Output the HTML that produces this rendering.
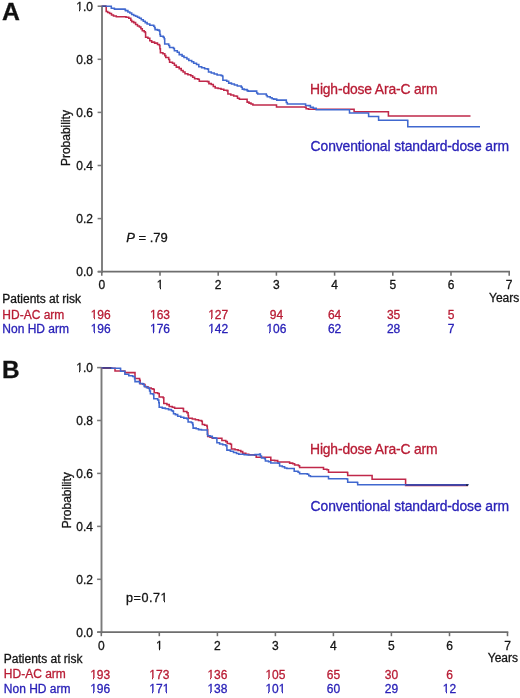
<!DOCTYPE html>
<html><head><meta charset="utf-8"><style>
html,body{margin:0;padding:0;background:#fff;}
body{width:520px;height:698px;overflow:hidden;}
svg{display:block;font-family:"Liberation Sans", sans-serif;will-change:transform;}
text{stroke-width:0.3px;}
</style></head><body>
<svg width="520" height="698" viewBox="0 0 520 698">
<text x="2" y="19.6" font-size="24.8" font-weight="bold" fill="#111" stroke="#111">A</text>
<text x="1.9" y="378.1" font-size="24.4" font-weight="bold" fill="#111" stroke="#111">B</text>
<line x1="102.0" y1="5.7" x2="102.0" y2="272.7" stroke="#7a7a7a" stroke-width="1.9"/>
<line x1="97.8" y1="271.7" x2="510.0" y2="271.7" stroke="#6e6e6e" stroke-width="1.8"/>
<line x1="97.6" y1="271.7" x2="102.0" y2="271.7" stroke="#7a7a7a" stroke-width="1.55"/>
<text x="93.0" y="276.1" text-anchor="end" font-size="12" fill="#141414" stroke="#141414">0.0</text>
<line x1="97.6" y1="218.6" x2="102.0" y2="218.6" stroke="#7a7a7a" stroke-width="1.55"/>
<text x="93.0" y="223.0" text-anchor="end" font-size="12" fill="#141414" stroke="#141414">0.2</text>
<line x1="97.6" y1="165.5" x2="102.0" y2="165.5" stroke="#7a7a7a" stroke-width="1.55"/>
<text x="93.0" y="169.9" text-anchor="end" font-size="12" fill="#141414" stroke="#141414">0.4</text>
<line x1="97.6" y1="112.4" x2="102.0" y2="112.4" stroke="#7a7a7a" stroke-width="1.55"/>
<text x="93.0" y="116.8" text-anchor="end" font-size="12" fill="#141414" stroke="#141414">0.6</text>
<line x1="97.6" y1="59.3" x2="102.0" y2="59.3" stroke="#7a7a7a" stroke-width="1.55"/>
<text x="93.0" y="63.7" text-anchor="end" font-size="12" fill="#141414" stroke="#141414">0.8</text>
<line x1="97.6" y1="6.2" x2="102.0" y2="6.2" stroke="#7a7a7a" stroke-width="1.55"/>
<text x="93.0" y="10.6" text-anchor="end" font-size="12" fill="#141414" stroke="#141414">1.0</text>
<line x1="101.8" y1="271.7" x2="101.8" y2="275.7" stroke="#6e6e6e" stroke-width="1.55"/>
<text x="101.8" y="289.0" text-anchor="middle" font-size="12" fill="#141414" stroke="#141414">0</text>
<line x1="160.0" y1="271.7" x2="160.0" y2="275.7" stroke="#6e6e6e" stroke-width="1.55"/>
<text x="160.0" y="289.0" text-anchor="middle" font-size="12" fill="#141414" stroke="#141414">1</text>
<line x1="218.2" y1="271.7" x2="218.2" y2="275.7" stroke="#6e6e6e" stroke-width="1.55"/>
<text x="218.2" y="289.0" text-anchor="middle" font-size="12" fill="#141414" stroke="#141414">2</text>
<line x1="276.4" y1="271.7" x2="276.4" y2="275.7" stroke="#6e6e6e" stroke-width="1.55"/>
<text x="276.4" y="289.0" text-anchor="middle" font-size="12" fill="#141414" stroke="#141414">3</text>
<line x1="334.6" y1="271.7" x2="334.6" y2="275.7" stroke="#6e6e6e" stroke-width="1.55"/>
<text x="334.6" y="289.0" text-anchor="middle" font-size="12" fill="#141414" stroke="#141414">4</text>
<line x1="392.8" y1="271.7" x2="392.8" y2="275.7" stroke="#6e6e6e" stroke-width="1.55"/>
<text x="392.8" y="289.0" text-anchor="middle" font-size="12" fill="#141414" stroke="#141414">5</text>
<line x1="451.0" y1="271.7" x2="451.0" y2="275.7" stroke="#6e6e6e" stroke-width="1.55"/>
<text x="451.0" y="289.0" text-anchor="middle" font-size="12" fill="#141414" stroke="#141414">6</text>
<line x1="509.2" y1="271.7" x2="509.2" y2="275.7" stroke="#6e6e6e" stroke-width="1.55"/>
<text x="509.2" y="289.0" text-anchor="middle" font-size="12" fill="#141414" stroke="#141414">7</text>
<line x1="101.5" y1="367.1" x2="101.5" y2="633.2" stroke="#7a7a7a" stroke-width="1.9"/>
<line x1="97.3" y1="632.2" x2="508.3" y2="632.2" stroke="#6e6e6e" stroke-width="1.8"/>
<line x1="97.1" y1="632.2" x2="101.5" y2="632.2" stroke="#7a7a7a" stroke-width="1.55"/>
<text x="93.0" y="636.6" text-anchor="end" font-size="12" fill="#141414" stroke="#141414">0.0</text>
<line x1="97.1" y1="579.3" x2="101.5" y2="579.3" stroke="#7a7a7a" stroke-width="1.55"/>
<text x="93.0" y="583.7" text-anchor="end" font-size="12" fill="#141414" stroke="#141414">0.2</text>
<line x1="97.1" y1="526.4" x2="101.5" y2="526.4" stroke="#7a7a7a" stroke-width="1.55"/>
<text x="93.0" y="530.8" text-anchor="end" font-size="12" fill="#141414" stroke="#141414">0.4</text>
<line x1="97.1" y1="473.4" x2="101.5" y2="473.4" stroke="#7a7a7a" stroke-width="1.55"/>
<text x="93.0" y="477.8" text-anchor="end" font-size="12" fill="#141414" stroke="#141414">0.6</text>
<line x1="97.1" y1="420.5" x2="101.5" y2="420.5" stroke="#7a7a7a" stroke-width="1.55"/>
<text x="93.0" y="424.9" text-anchor="end" font-size="12" fill="#141414" stroke="#141414">0.8</text>
<line x1="97.1" y1="367.6" x2="101.5" y2="367.6" stroke="#7a7a7a" stroke-width="1.55"/>
<text x="93.0" y="372.0" text-anchor="end" font-size="12" fill="#141414" stroke="#141414">1.0</text>
<line x1="101.3" y1="632.2" x2="101.3" y2="636.2" stroke="#6e6e6e" stroke-width="1.55"/>
<text x="101.3" y="649.5" text-anchor="middle" font-size="12" fill="#141414" stroke="#141414">0</text>
<line x1="159.3" y1="632.2" x2="159.3" y2="636.2" stroke="#6e6e6e" stroke-width="1.55"/>
<text x="159.3" y="649.5" text-anchor="middle" font-size="12" fill="#141414" stroke="#141414">1</text>
<line x1="217.4" y1="632.2" x2="217.4" y2="636.2" stroke="#6e6e6e" stroke-width="1.55"/>
<text x="217.4" y="649.5" text-anchor="middle" font-size="12" fill="#141414" stroke="#141414">2</text>
<line x1="275.4" y1="632.2" x2="275.4" y2="636.2" stroke="#6e6e6e" stroke-width="1.55"/>
<text x="275.4" y="649.5" text-anchor="middle" font-size="12" fill="#141414" stroke="#141414">3</text>
<line x1="333.4" y1="632.2" x2="333.4" y2="636.2" stroke="#6e6e6e" stroke-width="1.55"/>
<text x="333.4" y="649.5" text-anchor="middle" font-size="12" fill="#141414" stroke="#141414">4</text>
<line x1="391.4" y1="632.2" x2="391.4" y2="636.2" stroke="#6e6e6e" stroke-width="1.55"/>
<text x="391.4" y="649.5" text-anchor="middle" font-size="12" fill="#141414" stroke="#141414">5</text>
<line x1="449.5" y1="632.2" x2="449.5" y2="636.2" stroke="#6e6e6e" stroke-width="1.55"/>
<text x="449.5" y="649.5" text-anchor="middle" font-size="12" fill="#141414" stroke="#141414">6</text>
<line x1="507.5" y1="632.2" x2="507.5" y2="636.2" stroke="#6e6e6e" stroke-width="1.55"/>
<text x="507.5" y="649.5" text-anchor="middle" font-size="12" fill="#141414" stroke="#141414">7</text>
<text transform="translate(69.8,138.1) rotate(-90)" text-anchor="middle" font-size="12" fill="#141414" stroke="#141414">Probability</text>
<text transform="translate(70.8,500.2) rotate(-90)" text-anchor="middle" font-size="12" fill="#141414" stroke="#141414">Probability</text>
<text x="310" y="94.3" font-size="13.9" textLength="127.6" lengthAdjust="spacing" fill="#b81c34" stroke="#b81c34">High-dose Ara-C arm</text>
<text x="310.6" y="150.5" font-size="13.9" textLength="198.4" lengthAdjust="spacing" fill="#2a22b8" stroke="#2a22b8">Conventional standard-dose arm</text>
<text x="310" y="454.3" font-size="13.9" textLength="127.6" lengthAdjust="spacing" fill="#b81c34" stroke="#b81c34">High-dose Ara-C arm</text>
<text x="310.6" y="510.5" font-size="13.9" textLength="198.4" lengthAdjust="spacing" fill="#2a22b8" stroke="#2a22b8">Conventional standard-dose arm</text>
<text x="126.2" y="242.3" font-size="13" fill="#141414" stroke="#141414"><tspan font-style="italic">P</tspan> = .79</text>
<text x="126" y="602.4" font-size="12.6" textLength="41.6" lengthAdjust="spacing" fill="#141414" stroke="#141414">p=0.71</text>
<text x="489.0" y="302.3" font-size="12" fill="#141414" stroke="#141414" text-anchor="start">Years</text>
<text x="2.3" y="303.3" font-size="12" fill="#141414" stroke="#141414">Patients at risk</text>
<text x="2.3" y="318.6" font-size="12" fill="#b81c34" stroke="#b81c34">HD-AC arm</text>
<text x="2.3" y="333.2" font-size="12" fill="#2a22b8" stroke="#2a22b8">Non HD arm</text>
<text x="100.7" y="319.0" text-anchor="middle" font-size="12" fill="#b81c34" stroke="#b81c34">196</text>
<text x="100.7" y="333.4" text-anchor="middle" font-size="12" fill="#2a22b8" stroke="#2a22b8">196</text>
<text x="160.0" y="319.0" text-anchor="middle" font-size="12" fill="#b81c34" stroke="#b81c34">163</text>
<text x="160.0" y="333.4" text-anchor="middle" font-size="12" fill="#2a22b8" stroke="#2a22b8">176</text>
<text x="218.2" y="319.0" text-anchor="middle" font-size="12" fill="#b81c34" stroke="#b81c34">127</text>
<text x="218.2" y="333.4" text-anchor="middle" font-size="12" fill="#2a22b8" stroke="#2a22b8">142</text>
<text x="276.4" y="319.0" text-anchor="middle" font-size="12" fill="#b81c34" stroke="#b81c34">94</text>
<text x="276.4" y="333.4" text-anchor="middle" font-size="12" fill="#2a22b8" stroke="#2a22b8">106</text>
<text x="334.6" y="319.0" text-anchor="middle" font-size="12" fill="#b81c34" stroke="#b81c34">64</text>
<text x="334.6" y="333.4" text-anchor="middle" font-size="12" fill="#2a22b8" stroke="#2a22b8">62</text>
<text x="393.6" y="319.0" text-anchor="middle" font-size="12" fill="#b81c34" stroke="#b81c34">35</text>
<text x="393.6" y="333.4" text-anchor="middle" font-size="12" fill="#2a22b8" stroke="#2a22b8">28</text>
<text x="451.0" y="319.0" text-anchor="middle" font-size="12" fill="#b81c34" stroke="#b81c34">5</text>
<text x="451.0" y="333.4" text-anchor="middle" font-size="12" fill="#2a22b8" stroke="#2a22b8">7</text>
<text x="487.8" y="662.3" font-size="12" fill="#141414" stroke="#141414" text-anchor="start">Years</text>
<text x="3.8" y="663.0" font-size="12" fill="#141414" stroke="#141414">Patients at risk</text>
<text x="3.8" y="678.3" font-size="12" fill="#b81c34" stroke="#b81c34">HD-AC arm</text>
<text x="3.8" y="692.9" font-size="12" fill="#2a22b8" stroke="#2a22b8">Non HD arm</text>
<text x="100.2" y="679.0" text-anchor="middle" font-size="12" fill="#b81c34" stroke="#b81c34">193</text>
<text x="100.2" y="693.4" text-anchor="middle" font-size="12" fill="#2a22b8" stroke="#2a22b8">196</text>
<text x="159.3" y="679.0" text-anchor="middle" font-size="12" fill="#b81c34" stroke="#b81c34">173</text>
<text x="159.3" y="693.4" text-anchor="middle" font-size="12" fill="#2a22b8" stroke="#2a22b8">171</text>
<text x="217.4" y="679.0" text-anchor="middle" font-size="12" fill="#b81c34" stroke="#b81c34">136</text>
<text x="217.4" y="693.4" text-anchor="middle" font-size="12" fill="#2a22b8" stroke="#2a22b8">138</text>
<text x="275.4" y="679.0" text-anchor="middle" font-size="12" fill="#b81c34" stroke="#b81c34">105</text>
<text x="275.4" y="693.4" text-anchor="middle" font-size="12" fill="#2a22b8" stroke="#2a22b8">101</text>
<text x="333.4" y="679.0" text-anchor="middle" font-size="12" fill="#b81c34" stroke="#b81c34">65</text>
<text x="333.4" y="693.4" text-anchor="middle" font-size="12" fill="#2a22b8" stroke="#2a22b8">60</text>
<text x="391.4" y="679.0" text-anchor="middle" font-size="12" fill="#b81c34" stroke="#b81c34">30</text>
<text x="391.4" y="693.4" text-anchor="middle" font-size="12" fill="#2a22b8" stroke="#2a22b8">29</text>
<text x="449.5" y="679.0" text-anchor="middle" font-size="12" fill="#b81c34" stroke="#b81c34">6</text>
<text x="449.5" y="693.4" text-anchor="middle" font-size="12" fill="#2a22b8" stroke="#2a22b8">12</text>
<path d="M101.8 6.2 H106.2 V11.5 H107.7 V12.5 H109.6 V13.5 H111.5 V14.9 H113.5 V15.9 H116.3 V16.8 H126.0 V17.3 H128.8 V18.3 H130.8 V20.2 H131.7 V21.6 H133.7 V22.6 H135.6 V24.5 H137.5 V26.0 H139.4 V26.9 H140.9 V28.8 H142.3 V30.8 H144.2 V31.7 H145.2 V32.5 H145.6 V37.3 H147.9 V38.3 H149.8 V40.7 H151.7 V42.1 H154.6 V43.1 H157.5 V44.5 H159.4 V45.5 H159.9 V48.8 H160.4 V52.7 H162.9 V53.7 H164.8 V55.6 H165.8 V57.5 H168.7 V59.4 H169.6 V62.3 H172.5 V63.3 H174.4 V65.2 H176.3 V67.1 H179.2 V68.6 H181.2 V70.5 H183.1 V71.9 H185.0 V73.8 H187.9 V74.8 H190.8 V75.8 H192.7 V77.2 H194.6 V78.7 H197.9 V79.2 H199.3 V81.2 H207.5 V81.6 H208.9 V83.6 H211.3 V84.5 H213.3 V86.4 H215.2 V87.9 H218.1 V88.4 H221.0 V89.3 H223.8 V90.3 H226.9 V90.6 H227.9 V93.9 H230.8 V94.9 H233.7 V95.9 H236.5 V96.3 H237.5 V98.3 H239.4 V99.2 H246.8 V99.2 H247.1 V102.1 H249.0 V103.1 H251.0 V104.0 H252.9 V105.0 H275.8 V105.0 H276.5 V106.9 H305.2 V107.1 H306.1 V108.8 H308.5 V109.2 H353.8 V109.2 H354.1 V111.8 H388.0 V111.8 H388.4 V116.0 H470.5 V116.0" fill="none" stroke="#c0284a" stroke-width="1.55"/>
<path d="M101.8 6.2 H111.3 V8.2 H114.4 V9.1 H125.0 V9.6 H125.5 V10.6 H127.9 V12.0 H129.8 V13.0 H131.7 V14.4 H133.7 V15.4 H135.6 V16.3 H137.5 V17.3 H139.4 V18.3 H141.3 V19.7 H143.3 V21.2 H145.2 V22.6 H147.1 V24.0 H149.8 V25.3 H153.7 V26.3 H154.6 V27.7 H155.1 V29.6 H157.5 V30.1 H159.4 V31.1 H159.9 V34.4 H160.4 V36.3 H163.3 V37.3 H164.2 V38.8 H164.7 V44.0 H168.7 V45.5 H169.6 V47.4 H173.5 V48.4 H174.4 V50.8 H177.3 V52.2 H179.2 V54.6 H182.1 V56.1 H184.0 V57.5 H186.9 V58.9 H188.8 V60.4 H191.7 V61.8 H193.7 V63.3 H196.5 V64.5 H198.8 V66.7 H201.7 V67.7 H204.6 V68.7 H207.5 V69.1 H208.5 V72.0 H211.3 V73.0 H214.2 V73.9 H217.1 V74.9 H221.0 V75.4 H222.4 V76.3 H222.9 V80.2 H226.7 V81.2 H228.7 V83.1 H231.5 V84.0 H234.4 V85.0 H237.3 V86.0 H241.3 V87.2 H242.3 V89.1 H244.2 V89.6 H247.1 V90.6 H248.1 V91.1 H256.2 V91.1 H256.7 V93.0 H257.7 V93.9 H265.8 V93.9 H266.3 V95.4 H267.3 V96.8 H270.2 V97.8 H272.1 V98.8 H273.8 V99.1 H276.7 V100.1 H285.8 V100.1 H286.3 V102.5 H287.3 V103.9 H305.0 V103.9 H305.6 V105.4 H308.5 V105.6 H310.4 V107.3 H313.3 V108.3 H316.2 V109.7 H349.2 V109.8 H349.5 V113.0 H368.4 V113.0 H368.6 V116.4 H378.3 V116.4 H378.6 V120.2 H407.5 V120.4 H407.8 V126.8 H480.0 V126.8" fill="none" stroke="#4068cf" stroke-width="1.55"/>
<path d="M101.5 367.8 H111.5 V368.2 H115.0 V370.9 H124.6 V371.2 H124.9 V372.6 H134.6 V372.6 H135.0 V378.4 H139.4 V378.4 H139.6 V380.3 H140.2 V383.8 H143.5 V384.4 H145.0 V386.8 H148.0 V388.0 H151.2 V388.8 H153.1 V389.2 H154.2 V392.7 H157.7 V393.5 H159.2 V396.9 H163.1 V397.7 H163.8 V403.5 H166.9 V404.6 H169.2 V406.5 H172.3 V407.3 H174.6 V408.3 H182.8 V408.5 H183.5 V411.5 H186.9 V412.7 H188.1 V415.4 H188.5 V418.3 H192.3 V418.9 H195.4 V419.7 H198.5 V420.5 H201.5 V421.3 H202.3 V424.4 H204.6 V425.3 H206.9 V426.2 H207.3 V429.6 H207.7 V436.5 H210.0 V437.3 H212.3 V438.1 H215.4 V438.3 H220.4 V438.3 H221.9 V440.5 H225.8 V441.6 H227.3 V443.5 H230.4 V444.3 H231.5 V448.9 H235.0 V449.7 H238.1 V450.5 H240.8 V451.6 H242.7 V453.2 H245.8 V454.3 H248.8 V454.7 H254.6 V455.2 H256.2 V457.2 H269.8 V457.2 H270.8 V460.2 H274.6 V460.6 H277.7 V461.9 H288.1 V461.9 H289.6 V463.1 H292.7 V463.8 H294.6 V465.0 H298.5 V465.8 H299.6 V467.4 H322.5 V467.4 H323.5 V469.3 H326.9 V469.7 H328.5 V472.2 H347.2 V472.4 H347.7 V475.5 H371.7 V475.5 H372.1 V479.2 H405.2 V479.2 H405.6 V485.4 H468.0 V485.4" fill="none" stroke="#c0284a" stroke-width="1.55"/>
<path d="M101.5 367.8 H111.5 V368.3 H120.4 V368.6 H120.6 V371.2 H124.6 V371.2 H124.9 V374.3 H128.8 V375.7 H132.7 V376.5 H134.4 V376.8 H134.6 V378.8 H135.0 V381.6 H139.2 V381.8 H139.6 V383.4 H142.7 V384.2 H144.2 V386.5 H146.5 V387.6 H148.8 V388.4 H149.6 V391.0 H150.4 V393.8 H153.1 V394.4 H153.8 V398.8 H157.7 V400.0 H158.8 V402.7 H159.2 V407.3 H162.3 V408.1 H165.4 V408.8 H168.5 V409.6 H171.5 V410.8 H172.9 V411.3 H173.5 V413.8 H175.4 V414.6 H177.7 V416.2 H180.8 V417.3 H183.8 V418.1 H186.9 V418.8 H188.1 V421.9 H191.5 V422.7 H192.7 V424.6 H193.1 V428.1 H196.2 V428.8 H198.5 V429.6 H201.5 V430.0 H206.9 V430.0 H207.3 V434.2 H207.7 V435.8 H210.0 V436.2 H212.3 V437.7 H214.6 V438.1 H216.5 V438.4 H216.9 V442.8 H219.6 V443.9 H222.7 V444.7 H225.8 V445.8 H226.9 V450.1 H230.4 V451.2 H233.5 V452.4 H236.5 V453.5 H238.8 V454.3 H244.2 V454.7 H247.3 V455.0 H255.0 V454.6 H259.6 V453.9 H260.4 V456.0 H261.5 V457.9 H264.6 V458.7 H265.4 V461.0 H268.5 V461.8 H270.8 V462.9 H278.1 V463.1 H279.6 V466.0 H282.3 V466.8 H284.6 V467.9 H286.9 V468.5 H293.6 V468.5 H294.2 V471.2 H298.1 V472.3 H299.6 V473.8 H307.3 V474.2 H308.8 V475.8 H310.4 V476.4 H327.6 V476.4 H328.5 V478.7 H346.8 V478.9 H347.7 V482.2 H357.2 V482.4 H357.7 V484.7 H405.6 V484.8 H468.0 V485.0" fill="none" stroke="#4068cf" stroke-width="1.55"/>
<rect x="77" y="10" width="2" height="2" fill="#fff" shape-rendering="crispEdges"/>
<rect x="80" y="10" width="3" height="2" fill="#fff" shape-rendering="crispEdges"/>
<rect x="157" y="288" width="3" height="2" fill="#fff" shape-rendering="crispEdges"/>
<rect x="161" y="288" width="2" height="2" fill="#fff" shape-rendering="crispEdges"/>
<rect x="77" y="371" width="2" height="2" fill="#fff" shape-rendering="crispEdges"/>
<rect x="80" y="371" width="3" height="2" fill="#fff" shape-rendering="crispEdges"/>
<rect x="156" y="649" width="3" height="2" fill="#fff" shape-rendering="crispEdges"/>
<rect x="160" y="649" width="3" height="2" fill="#fff" shape-rendering="crispEdges"/>
<rect x="161" y="601" width="3" height="2" fill="#fff" shape-rendering="crispEdges"/>
<rect x="165" y="601" width="3" height="2" fill="#fff" shape-rendering="crispEdges"/>
<rect x="91" y="318" width="3" height="2" fill="#fff" shape-rendering="crispEdges"/>
<rect x="95" y="318" width="2" height="2" fill="#fff" shape-rendering="crispEdges"/>
<rect x="91" y="332" width="3" height="2" fill="#fff" shape-rendering="crispEdges"/>
<rect x="95" y="332" width="2" height="2" fill="#fff" shape-rendering="crispEdges"/>
<rect x="150" y="318" width="3" height="2" fill="#fff" shape-rendering="crispEdges"/>
<rect x="154" y="318" width="3" height="2" fill="#fff" shape-rendering="crispEdges"/>
<rect x="150" y="332" width="3" height="2" fill="#fff" shape-rendering="crispEdges"/>
<rect x="154" y="332" width="3" height="2" fill="#fff" shape-rendering="crispEdges"/>
<rect x="208" y="318" width="3" height="2" fill="#fff" shape-rendering="crispEdges"/>
<rect x="212" y="318" width="3" height="2" fill="#fff" shape-rendering="crispEdges"/>
<rect x="208" y="332" width="3" height="2" fill="#fff" shape-rendering="crispEdges"/>
<rect x="212" y="332" width="3" height="2" fill="#fff" shape-rendering="crispEdges"/>
<rect x="267" y="332" width="2" height="2" fill="#fff" shape-rendering="crispEdges"/>
<rect x="270" y="332" width="3" height="2" fill="#fff" shape-rendering="crispEdges"/>
<rect x="90" y="678" width="3" height="2" fill="#fff" shape-rendering="crispEdges"/>
<rect x="94" y="678" width="3" height="2" fill="#fff" shape-rendering="crispEdges"/>
<rect x="90" y="692" width="3" height="2" fill="#fff" shape-rendering="crispEdges"/>
<rect x="94" y="692" width="3" height="2" fill="#fff" shape-rendering="crispEdges"/>
<rect x="149" y="678" width="3" height="2" fill="#fff" shape-rendering="crispEdges"/>
<rect x="153" y="678" width="3" height="2" fill="#fff" shape-rendering="crispEdges"/>
<rect x="149" y="692" width="3" height="2" fill="#fff" shape-rendering="crispEdges"/>
<rect x="153" y="692" width="3" height="2" fill="#fff" shape-rendering="crispEdges"/>
<rect x="163" y="692" width="3" height="2" fill="#fff" shape-rendering="crispEdges"/>
<rect x="167" y="692" width="2" height="2" fill="#fff" shape-rendering="crispEdges"/>
<rect x="208" y="678" width="2" height="2" fill="#fff" shape-rendering="crispEdges"/>
<rect x="211" y="678" width="3" height="2" fill="#fff" shape-rendering="crispEdges"/>
<rect x="208" y="692" width="2" height="2" fill="#fff" shape-rendering="crispEdges"/>
<rect x="211" y="692" width="3" height="2" fill="#fff" shape-rendering="crispEdges"/>
<rect x="266" y="678" width="2" height="2" fill="#fff" shape-rendering="crispEdges"/>
<rect x="269" y="678" width="3" height="2" fill="#fff" shape-rendering="crispEdges"/>
<rect x="266" y="692" width="2" height="2" fill="#fff" shape-rendering="crispEdges"/>
<rect x="269" y="692" width="3" height="2" fill="#fff" shape-rendering="crispEdges"/>
<rect x="279" y="692" width="3" height="2" fill="#fff" shape-rendering="crispEdges"/>
<rect x="283" y="692" width="3" height="2" fill="#fff" shape-rendering="crispEdges"/>
<rect x="443" y="692" width="3" height="2" fill="#fff" shape-rendering="crispEdges"/>
<rect x="447" y="692" width="3" height="2" fill="#fff" shape-rendering="crispEdges"/>
<path d="M405.8 485.1 H466" fill="none" stroke="#3d3c9e" stroke-width="1.5"/>
<path d="M102.5 368.0 H111.2" fill="none" stroke="#4a2f72" stroke-width="1.5"/>
<path d="M102.5 6.25 H106.0" fill="none" stroke="#444a8a" stroke-width="1.5"/>
<path d="M466 485.1 H468.2" fill="none" stroke="#22224a" stroke-width="1.8"/>
</svg>
</body></html>
